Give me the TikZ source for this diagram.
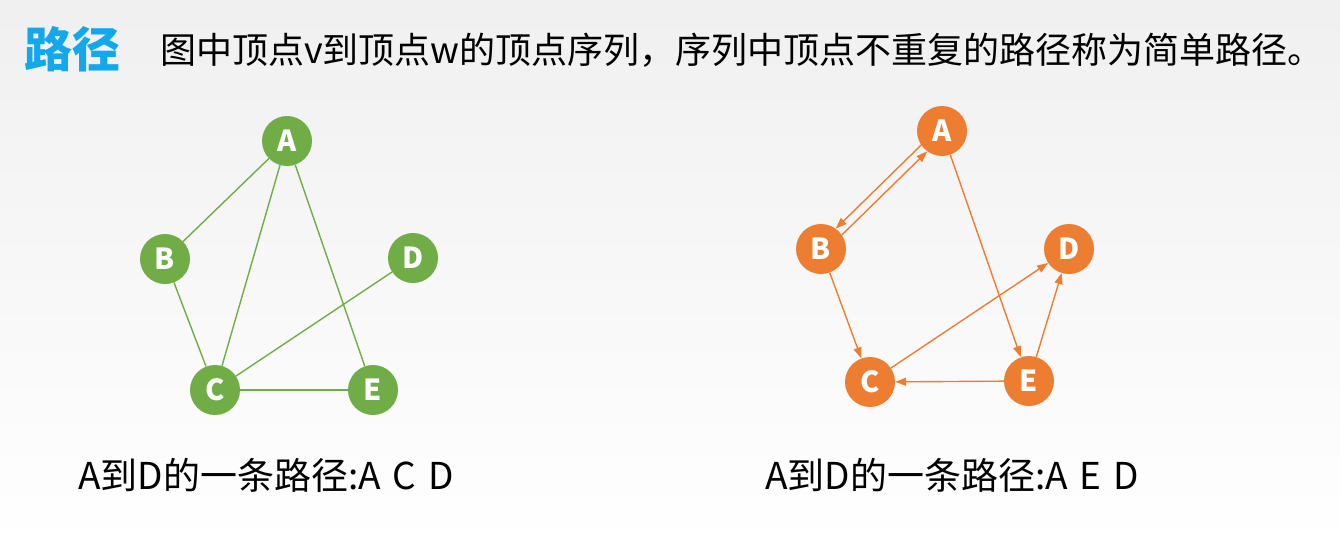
\documentclass[tikz,border=0pt]{standalone}
\usepackage{fontspec}
\setmainfont{Noto Sans CJK SC}
\usetikzlibrary{arrows.meta}
\definecolor{vgreen}{HTML}{70AD47}
\definecolor{vorange}{HTML}{ED7D31}
\definecolor{tblue}{HTML}{13A8EC}
\newcommand\wgap{\hspace{12pt}}

\begin{document}
\begin{tikzpicture}[
  x=1pt, y=-1pt,
  vtx/.style={circle, inner sep=0pt, minimum size=50pt, text=white, font=\fontsize{29}{30}\selectfont\bfseries},
  gv/.style={vtx, fill=vgreen},
  ov/.style={vtx, fill=vorange},
  gline/.style={draw=vgreen, line width=1.4pt},
  oline/.style={draw=vorange, line width=1.4pt, -{Triangle[length=11pt,width=8pt]}},
  caption/.style={anchor=west, inner sep=0pt, font=\fontsize{37}{42}\selectfont}
]
\shade[top color=black!6, bottom color=white] (0,0) rectangle (1340,547);
\useasboundingbox (0,0) rectangle (1340,547);

% heading
\node[anchor=west, inner sep=0pt, text=tblue, font=\fontsize{48}{52}\selectfont\bfseries] (title) at (24,49) {路径};
\node[anchor=west, inner sep=0pt, font=\fontsize{36}{40}\selectfont] (intro) at (160,50) {图中顶点v到顶点w的顶点序列，序列中顶点不重复的路径称为简单路径。};

% undirected graph
\node[gv] (gA) at (287,141) {A};
\node[gv] (gB) at (165,259) {B};
\node[gv] (gD) at (413,258) {D};
\node[gv] (gC) at (215,390) {C};
\node[gv] (gE) at (373,390) {E};
\draw[gline] (gA) -- (gB);
\draw[gline] (gA) -- (gC);
\draw[gline] (gA) -- (gE);
\draw[gline] (gB) -- (gC);
\draw[gline] (gC) -- (gD);
\draw[gline] (gC) -- (gE);

% directed graph
\node[ov] (oA) at (942,131) {A};
\node[ov] (oB) at (821,249) {B};
\node[ov] (oD) at (1069,249) {D};
\node[ov] (oC) at (870,382) {C};
\node[ov] (oE) at (1029,381) {E};
\draw[oline] (oA.214) -- (oB.54);
\draw[oline] (oB.34) -- (oA.234);
\draw[oline] (oB) -- (oC);
\draw[oline] (oA) -- (oE);
\draw[oline] (oC) -- (oD);
\draw[oline] (oE) -- (oC);
\draw[oline] (oE) -- (oD);

% captions
\node[caption] (gpath) at (78,475) {A到D的一条路径:A\wgap C\wgap D};
\node[caption] (opath) at (765,475) {A到D的一条路径:A\wgap E\wgap D};
\end{tikzpicture}
\end{document}
